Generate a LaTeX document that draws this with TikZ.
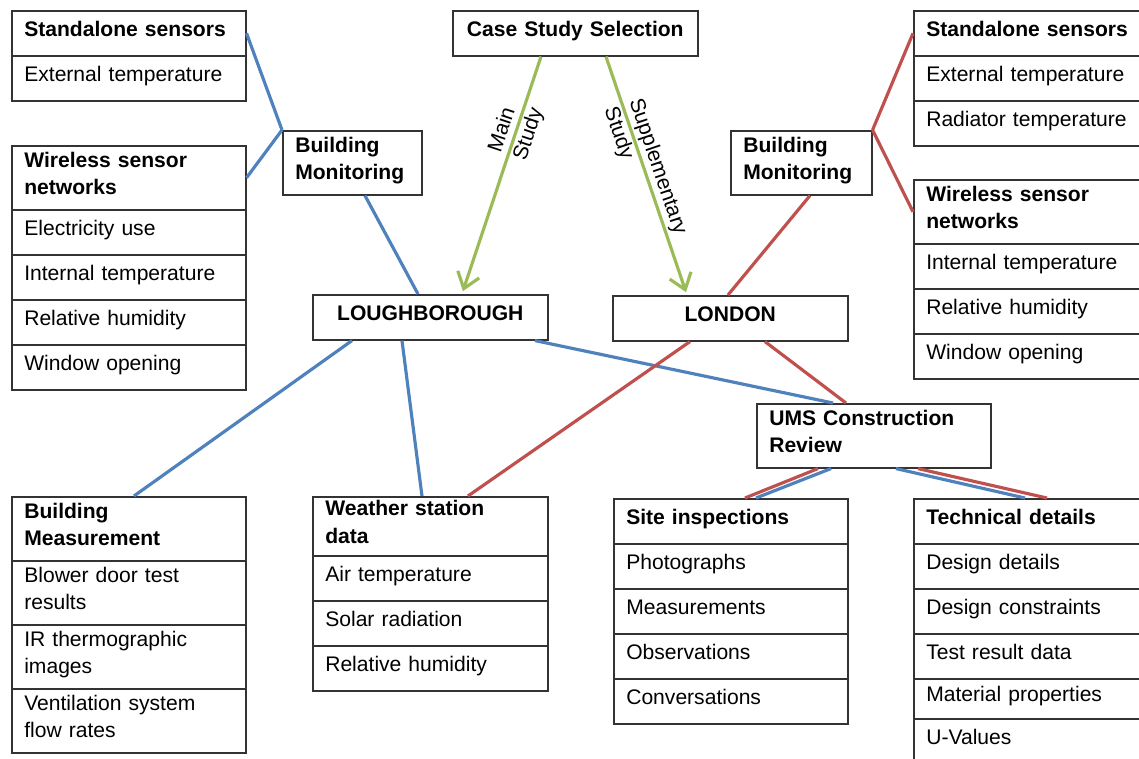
\documentclass[tikz,border=0pt]{standalone}
\usepackage{fontspec}
\setmainfont{Liberation Sans}
\usepackage{xcolor}
\usepackage{tikz}
\usetikzlibrary{positioning, calc, arrows.meta}

\definecolor{msblue}{RGB}{79,129,189}
\definecolor{msred}{RGB}{192,80,77}
\definecolor{msgreen}{RGB}{155,187,89}

\begin{document}
\begin{tikzpicture}[x=0.02cm, y=-0.02cm,
  cell/.style={draw=black!80, line width=0.9pt, rectangle, anchor=north west, inner xsep=0.25cm, inner ysep=0pt, align=left, text depth=0.18cm, minimum height=0.9cm, font=\fontsize{12}{15.5}\selectfont},
  head/.style={cell, font=\fontsize{12}{15.5}\selectfont\bfseries},
  tall/.style={text depth=0.725cm, minimum height=1.28cm},
  blueline/.style={draw=msblue, line width=1.8pt},
  redline/.style={draw=msred, line width=1.8pt},
  study/.style={draw=msgreen, line width=1.8pt, shorten >=0.06cm, -{Straight Barb[length=0.3cm, width=0.45cm]}},
  lbl/.style={sloped, align=left, inner sep=0pt, font=\fontsize{12}{15}\selectfont}]
\useasboundingbox (0,0) rectangle (1139,758);

% Loughborough monitoring
\node[head, text width=4.18cm] (lss) at (11,10) {Standalone sensors};
\node[cell, text width=4.18cm] (lss0) at (11,55) {External temperature};
\node[head, tall, text width=4.18cm] (lwsn) at (11,145) {Wireless sensor\\networks};
\foreach \i/\txt in {0/Electricity use, 1/Internal temperature, 2/Relative humidity, 3/Window opening} {
   \node[cell, text width=4.18cm] (lwsn\i) at (11,209+45*\i) {\txt};
}
\node[head, tall, text width=2.28cm] (lbm) at (282,130) {Building\\Monitoring};

% Case studies
\node[head, align=center, text width=4.4cm] (css) at (452,10) {Case Study Selection};
\node[head, align=center, text width=4.2cm] (lough) at (312,294) {LOUGHBOROUGH};
\node[head, align=center, text width=4.2cm] (lon) at (612,295) {LONDON};

% London monitoring
\node[head, tall, text width=2.32cm] (rbm) at (730,130) {Building\\Monitoring};
\node[head, text width=4.08cm] (rss) at (913,10) {Standalone sensors};
\foreach \i/\txt in {0/External temperature, 1/Radiator temperature} {
   \node[cell, text width=4.08cm] (rss\i) at (913,55+45*\i) {\txt};
}
\node[head, tall, text width=4.08cm] (rwsn) at (913,179) {Wireless sensor\\networks};
\foreach \i/\txt in {0/Internal temperature, 1/Relative humidity, 2/Window opening} {
   \node[cell, text width=4.08cm] (rwsn\i) at (913,243+45*\i) {\txt};
}

% Construction review
\node[head, tall, text width=4.18cm] (ums) at (756,403) {UMS Construction\\Review};

% Measurement and weather
\node[head, tall, text width=4.18cm] (bm) at (11,496) {Building\\Measurement};
\foreach \i/\txt in {0/Blower door test\\results, 1/IR thermographic\\images, 2/Ventilation system\\flow rates} {
   \node[cell, tall, text width=4.18cm] (bm\i) at (11,560+64*\i) {\txt};
}
\node[head, tall, minimum height=1.18cm, text width=4.2cm] (ws) at (312,496) {Weather station\\data};
\foreach \i/\txt in {0/Air temperature, 1/Solar radiation, 2/Relative humidity} {
   \node[cell, text width=4.2cm] (ws\i) at (312,555+45*\i) {\txt};
}

% Inspections and details
\node[head, text width=4.18cm] (site) at (613,498) {Site inspections};
\foreach \i/\txt in {0/Photographs, 1/Measurements, 2/Observations, 3/Conversations} {
   \node[cell, text width=4.18cm] (site\i) at (613,543+45*\i) {\txt};
}
\node[head, text width=4.08cm] (tech) at (913,498) {Technical details};
\foreach \i/\txt in {0/Design details, 1/Design constraints, 2/Test result data} {
   \node[cell, text width=4.08cm] (tech\i) at (913,543+45*\i) {\txt};
}
\node[cell, text width=4.08cm, minimum height=0.8cm] (tech3) at (913,678) {Material properties};
\node[cell, text width=4.08cm] (tech4) at (913,718) {U-Values};

% Loughborough links
\draw[blueline] (lss.east) -- (lbm.north west);
\draw[blueline] (lwsn.east) -- (lbm.north west);
\draw[blueline] ([xshift=1.66cm]lbm.south west) -- ([xshift=2.12cm]lough.north west);
\draw[blueline] ([xshift=0.8cm]lough.south west) -- ([xshift=2.46cm]bm.north west);
\draw[blueline] ([xshift=1.8cm]lough.south west) -- ([xshift=2.2cm]ws.north west);
\draw[blueline] ([xshift=4.46cm]lough.south west) -- ([xshift=1.54cm]ums.north west);

% London links
\draw[redline] (rbm.north east) -- (rss.west);
\draw[redline] (rbm.north east) -- (rwsn.west);
\draw[redline] ([xshift=1.6cm]rbm.south west) -- ([xshift=2.32cm]lon.north west);
\draw[redline] ([xshift=1.56cm]lon.south west) -- ([xshift=3.12cm]ws.north west);
\draw[redline] ([xshift=3.06cm]lon.south west) -- ([xshift=1.8cm]ums.north west);
\draw[redline] ([xshift=1.24cm]ums.south west) -- ([xshift=2.64cm]site.north west);
\draw[redline] ([xshift=3.24cm]ums.south west) -- ([xshift=2.68cm]tech.north west);
\draw[blueline] ([xshift=1.5cm]ums.south west) -- ([xshift=2.86cm]site.north west);
\draw[blueline] ([xshift=2.8cm]ums.south west) -- ([xshift=2.24cm]tech.north west);

% Study selection
\draw[study] ([xshift=1.78cm]css.south west) -- node[lbl, pos=0.31] {Main\\Study} ([xshift=3cm]lough.north west);
\draw[study] ([xshift=3.08cm]css.south west) -- node[lbl, pos=0.48] {Supplementary\\Study} ([xshift=1.5cm]lon.north west);
\end{tikzpicture}
\end{document}
